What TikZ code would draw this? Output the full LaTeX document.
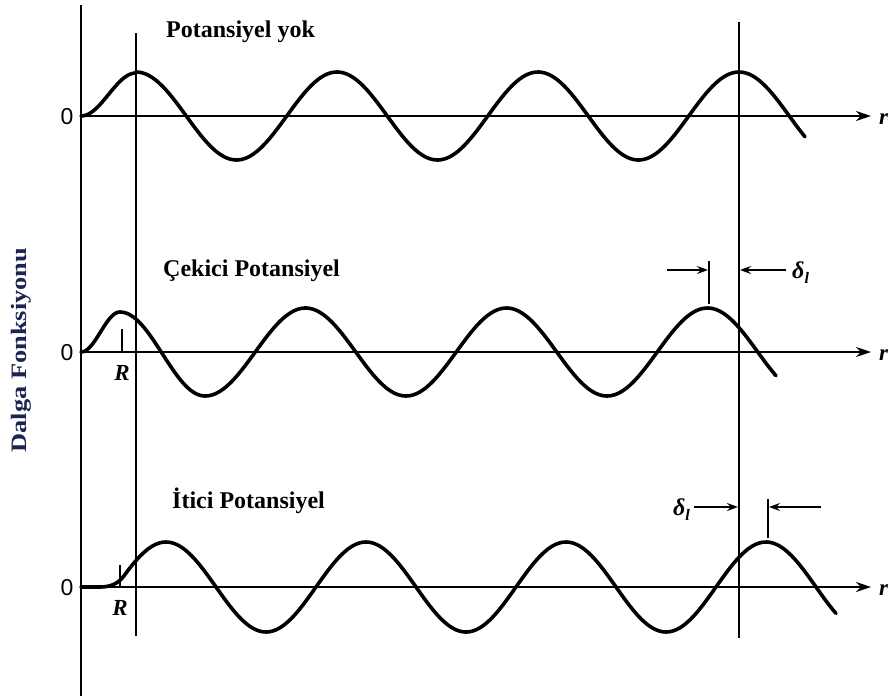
\documentclass[tikz,border=0pt]{standalone}
\usepackage{fontspec}
\setmainfont{Liberation Serif}
\newfontfamily\zerofont{Liberation Sans}
\usetikzlibrary{arrows.meta}
\definecolor{navyink}{RGB}{28,36,80}
\newcommand{\dellabel}{\textbf{\textit{δ}}\raisebox{-5pt}{\fontsize{16}{17}\selectfont\textbf{\textit{l}}}}
\begin{document}
\begin{tikzpicture}[x=1pt,y=-1pt,
  wave/.style={line width=3.6pt, line cap=round, line join=round},
  raxis/.style={line width=2.2pt, -{Stealth[length=15pt,width=10pt,inset=5pt]}},
  vline/.style={line width=1.8pt},
  tickline/.style={line width=1.6pt},
  darrow/.style={line width=1.6pt, -{Stealth[length=11pt,width=8pt,inset=4pt]}},
  title/.style={font=\fontsize{24}{26}\selectfont\bfseries, anchor=base west, inner sep=0pt},
  zerolbl/.style={font=\zerofont\fontsize{23}{25}\selectfont, inner sep=0pt},
  itlbl/.style={font=\fontsize{23}{25}\selectfont\bfseries\itshape, inner sep=0pt},
  deltalbl/.style={font=\fontsize{24}{26}\selectfont, inner sep=0pt}]
\useasboundingbox (0,0) rectangle (889,696);

% axes coordinates
\coordinate (ytop) at (81,5);
\coordinate (ybot) at (81,696);
\coordinate (a1s) at (81,116);  \coordinate (a1e) at (871,116);
\coordinate (a2s) at (81,352);  \coordinate (a2e) at (871,352);
\coordinate (a3s) at (81,587);  \coordinate (a3e) at (871,587);
\coordinate (v2t) at (136,33);  \coordinate (v2b) at (136,636);
\coordinate (v3t) at (739,22);  \coordinate (v3b) at (739,638);

\draw[vline] (ytop) -- (ybot);
\draw[vline] (v2t) -- (v2b);
\draw[vline] (v3t) -- (v3b);
\draw[raxis] (a1s) -- (a1e);
\draw[raxis] (a2s) -- (a2e);
\draw[raxis] (a3s) -- (a3e);

% r labels
\node[itlbl, anchor=west] (r1) at (879,119) {r};
\node[itlbl, anchor=west] (r2) at (879,355) {r};
\node[itlbl, anchor=west] (r3) at (879,590) {r};

% zero labels
\node[zerolbl] (z1) at (67,117) {0};
\node[zerolbl] (z2) at (67,353) {0};
\node[zerolbl] (z3) at (67,588) {0};

% titles
\node[title] (t1) at (166,37) {Potansiyel yok};
\node[title] (t2) at (163,276) {Çekici Potansiyel};
\node[title] (t3) at (172,508) {İtici Potansiyel};

% y label
\node[font=\fontsize{22}{24}\selectfont\bfseries, text=navyink, rotate=90, inner sep=0pt] (ylab) at (21,350) {\scalebox{1.2}[1]{Dalga Fonksiyonu}};

% waves
\draw[wave] plot[domain=81:136,samples=30] (\x,{116-43*(1-cos(3.2727*(\x-81)))/2})
  -- plot[domain=136:805,samples=240] (\x,{116-44*cos(1.79104*(\x-136))});

\draw[wave] plot[domain=81:120,samples=25] (\x,{352-40*(1-cos(4.61538*(\x-81)))/2})
  -- plot[domain=120:205,samples=40] (\x,{354-42*cos(2.11765*(\x-120))})
  -- plot[domain=205:776,samples=220] (\x,{352+44*cos(1.79104*(\x-205))});

\coordinate (w3a) at (81,587);
\coordinate (w3b) at (100,587);
\coordinate (w3c) at (124,575.8);
\draw[wave] (w3a) -- (w3b) .. controls (110,587) and (118,584) .. (w3c)
  -- plot[domain=124:836,samples=260] (\x,{587-45*cos(1.8*(\x-166))});

% R ticks and labels
\coordinate (rt2a) at (122,329); \coordinate (rt2b) at (122,352);
\coordinate (rt3a) at (120,565); \coordinate (rt3b) at (120,587);
\draw[tickline] (rt2a) -- (rt2b);
\draw[tickline] (rt3a) -- (rt3b);
\node[itlbl] (R2) at (122,373) {R};
\node[itlbl] (R3) at (120,608) {R};

% delta markers, middle
\coordinate (d2t) at (709,261); \coordinate (d2b) at (709,304);
\coordinate (d2l) at (667,270); \coordinate (d2la) at (708,270);
\coordinate (d2r) at (786,270); \coordinate (d2ra) at (740,270);
\draw[tickline] (d2t) -- (d2b);
\draw[darrow] (d2l) -- (d2la);
\draw[darrow] (d2r) -- (d2ra);
\node[deltalbl, anchor=west] (dl2) at (792,273) {\dellabel};

% delta markers, bottom
\coordinate (d3t) at (768,499); \coordinate (d3b) at (768,538);
\coordinate (d3l) at (694,507); \coordinate (d3la) at (738,507);
\coordinate (d3r) at (821,507); \coordinate (d3ra) at (769,507);
\draw[tickline] (d3t) -- (d3b);
\draw[darrow] (d3l) -- (d3la);
\draw[darrow] (d3r) -- (d3ra);
\node[deltalbl, anchor=east] (dl3) at (690,510) {\dellabel};
\end{tikzpicture}
\end{document}
